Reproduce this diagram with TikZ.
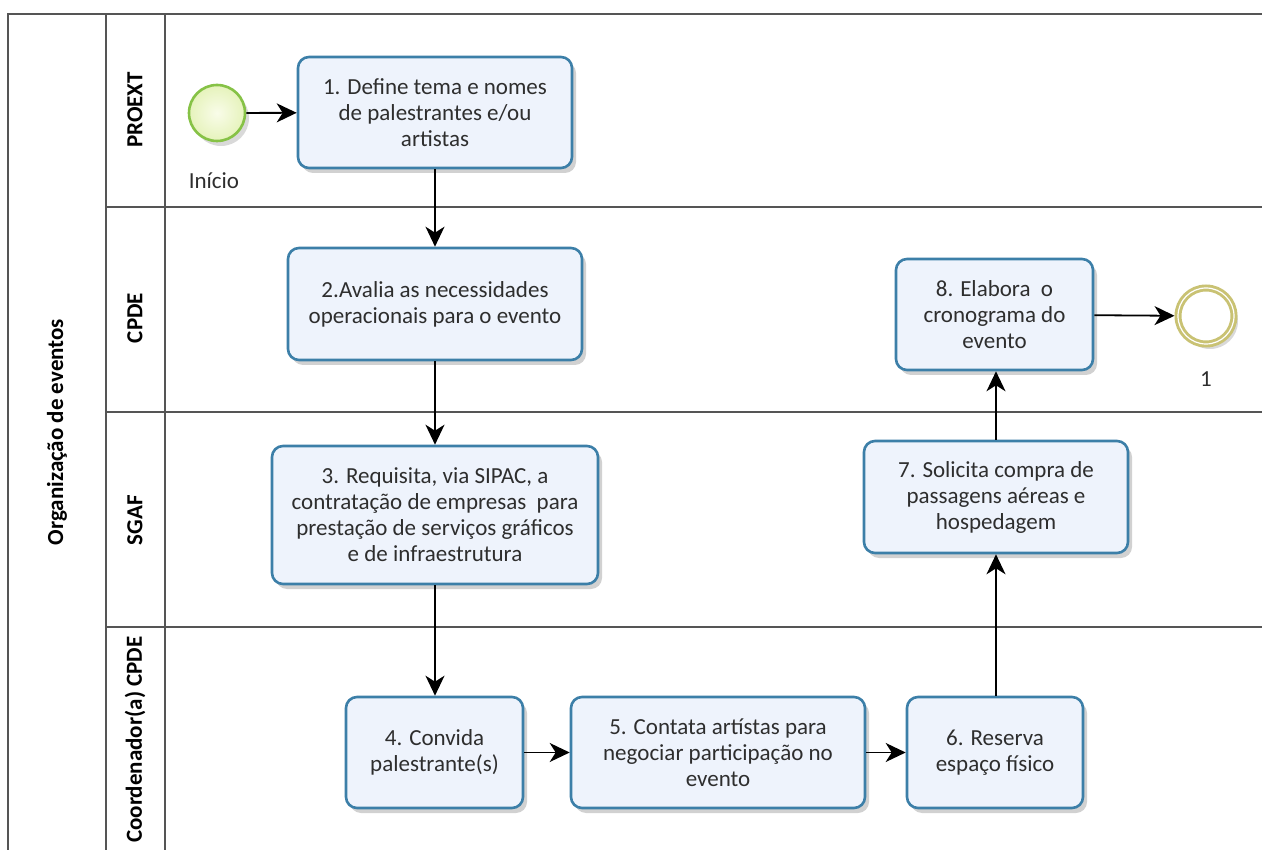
\documentclass[tikz,border=0pt]{standalone}
\usepackage{fontspec}
\setmainfont{Carlito}
\usetikzlibrary{arrows.meta,shadows}
\definecolor{boxline}{HTML}{3C7FA8}
\definecolor{boxfill}{HTML}{EEF3FC}
\definecolor{startline}{HTML}{86C246}
\definecolor{startfill}{HTML}{F0F8C8}
\definecolor{endline}{HTML}{C9C273}
\definecolor{lanegray}{HTML}{555555}
\definecolor{txt}{HTML}{2E2E2E}
\tikzset{
  x=1pt,y=-1pt,
  task/.style={draw=boxline,line width=2.6pt,fill=boxfill,rounded corners=11pt,
    align=center,text=txt,font=\fontsize{23}{26}\selectfont,inner sep=2pt,
    drop shadow={shadow xshift=4pt,shadow yshift=-5pt,opacity=0.18,fill=black}},
  flow/.style={-{Stealth[length=20pt,width=19pt,inset=6pt]},line width=1.8pt,black},
  lanelbl/.style={rotate=90,font=\fontsize{23}{26}\selectfont\bfseries,text=black},
  laneline/.style={draw=lanegray,line width=1.5pt},
  evlbl/.style={font=\fontsize{23}{26}\selectfont,text=txt},
}
\begin{document}
\begin{tikzpicture}
\useasboundingbox (0,0) rectangle (1262,850);
\fill[white] (0,0) rectangle (1262,850);
% pool and lanes
\draw[laneline] (8,860) -- (8,14) -- (1270,14);
\draw[laneline] (106,14) -- (106,860);
\draw[laneline] (165,14) -- (165,860);
\draw[laneline] (106,207) -- (1270,207);
\draw[laneline] (106,412) -- (1270,412);
\draw[laneline] (106,627) -- (1270,627);
\node[lanelbl] (pool) at (57,432) {Organização de eventos};
\node[lanelbl] (l1) at (135,110) {PROEXT};
\node[lanelbl] (l2) at (135,318) {CPDE};
\node[lanelbl] (l3) at (135,520) {SGAF};
\node[lanelbl,anchor=east] (l4) at (135,633) {Coordenador(a) CPDE};
% events
\node[circle,draw=startline,line width=2.6pt,inner color=startfill!40,outer color=startfill!90!startline,minimum size=56pt,
  drop shadow={shadow xshift=4pt,shadow yshift=-5pt,opacity=0.15,fill=black}] (start) at (217,113) {};
\node[evlbl] (startlbl) at (214,181) {Início};
\node[circle,draw=endline,line width=7pt,fill=white,minimum size=56pt,
  drop shadow={shadow xshift=4pt,shadow yshift=-5pt,opacity=0.15,fill=black}] (end) at (1206,316) {};
\node[circle,draw=white,line width=1.2pt,minimum size=56pt] (endin) at (1206,316) {};
\node[evlbl] (endlbl) at (1206,379) {1};
% tasks
\node[task,minimum width=274pt,minimum height=111pt] (t1) at (435,112.5) {1. Define tema e nomes\\de palestrantes e/ou\\artistas};
\node[task,minimum width=294pt,minimum height=112pt] (t2) at (435,304) {2.Avalia as necessidades\\operacionais para o evento};
\node[task,minimum width=326pt,minimum height=138pt] (t3) at (435,515) {3. Requisita, via SIPAC, a\\contratação de empresas \ para\\prestação de serviços gráficos\\e de infraestrutura};
\node[task,minimum width=177pt,minimum height=111pt] (t4) at (434.5,752.5) {4. Convida\\palestrante(s)};
\node[task,minimum width=294pt,minimum height=111pt] (t5) at (718,752.5) {5. Contata artístas para\\negociar participação no\\evento};
\node[task,minimum width=176pt,minimum height=111pt] (t6) at (995,752.5) {6. Reserva\\espaço físico};
\node[task,minimum width=264pt,minimum height=112pt] (t7) at (996,497) {7. Solicita compra de\\passagens aéreas e\\hospedagem};
\node[task,minimum width=197pt,minimum height=111pt] (t8) at (994.5,314.5) {8. Elabora \ o\\cronograma do\\evento};
% flows
\draw[flow] (start) -- (t1);
\draw[flow] (t1) -- (t2);
\draw[flow] (t2) -- (t3);
\draw[flow] (t3) -- (t3 |- t4.north);
\draw[flow] (t4) -- (t5);
\draw[flow] (t5) -- (t6);
\draw[flow] (t6.north -| t7) -- (t7);
\draw[flow] (t7) -- (t7 |- t8.south);
\draw[flow] (t8) -- (end);
\end{tikzpicture}
\end{document}
